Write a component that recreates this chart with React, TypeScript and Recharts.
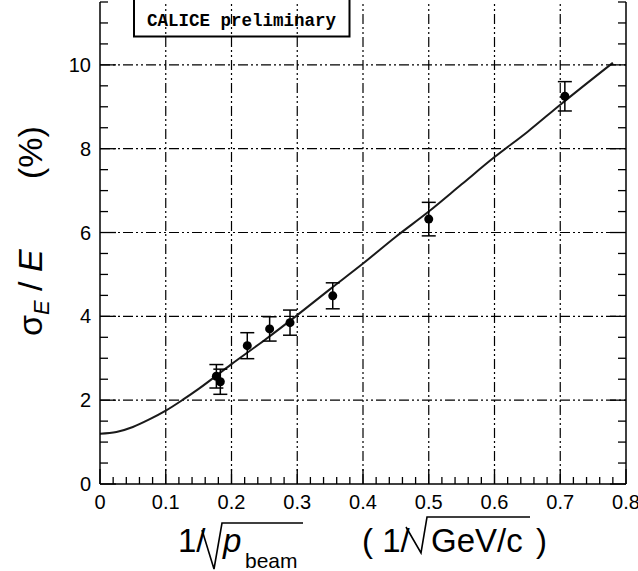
import {
  ComposedChart,
  Line,
  Scatter,
  ErrorBar,
  XAxis,
  YAxis,
  ReferenceLine,
} from "recharts";

// Measured resolution vs 1/sqrt(p) for the beam momenta
const beamX = [0.177, 0.183, 0.224, 0.258, 0.289, 0.354, 0.5, 0.707];
const resolution = [2.57, 2.44, 3.3, 3.7, 3.85, 4.49, 6.32, 9.25];
const resolutionErr = [0.28, 0.3, 0.31, 0.29, 0.3, 0.31, 0.4, 0.35];

// Fit curve, read along its length
const fitX = [0, 0.025, 0.05, 0.075, 0.1, 0.125, 0.15, 0.2, 0.25, 0.3, 0.35, 0.4, 0.45, 0.5, 0.55, 0.6, 0.65, 0.7, 0.78];
const fitY = [1.2, 1.24, 1.36, 1.54, 1.75, 2.0, 2.27, 2.86, 3.43, 4.03, 4.65, 5.26, 5.9, 6.5, 7.15, 7.8, 8.4, 9.05, 10.05];

const xMajor = [0, 0.1, 0.2, 0.3, 0.4, 0.5, 0.6, 0.7, 0.8];
const yMajor = [0, 2, 4, 6, 8, 10];
const xGrid = [0.1, 0.2, 0.3, 0.4, 0.5, 0.6, 0.7];
const yGrid = [2, 4, 6, 8, 10];

const W = 638;
const H = 571;
const M = { top: 2, right: 12, bottom: 0, left: 0 };
const Y_AXIS_W = 100;
const X_AXIS_H = 87;
const PLOT_RIGHT = W - M.right;

// minor ticks every 0.02 in x and 0.5 in y
const xTicks = Array.from({ length: 41 }, (_, i) => Math.round(i * 2) / 100);
const yTicks = Array.from({ length: 24 }, (_, i) => i * 0.5);

const points = beamX.map((x, i) => ({ x, y: resolution[i], err: resolutionErr[i] }));
const fit = fitX.map((x, i) => ({ x, y: fitY[i] }));

const FONT = "'Liberation Sans', Arial, Helvetica, sans-serif";
const isMajor = (v: number, list: number[]) => list.some((m) => Math.abs(m - v) < 1e-6);

const XTick = (props: any) => {
  const { x, y, payload } = props;
  const v = payload.value;
  const major = isMajor(v, xMajor);
  return (
    <g>
      <line x1={x} y1={y} x2={x} y2={y - (major ? 15 : 7)} stroke="#000" strokeWidth={1.3} />
      {major && (
        <text x={x} y={y + 25} textAnchor="middle" fontFamily={FONT} fontSize={20} fill="#000">
          {v === 0 ? "0" : v.toString()}
        </text>
      )}
    </g>
  );
};

const YTick = (props: any) => {
  const { x, y, payload } = props;
  const v = payload.value;
  const major = isMajor(v, yMajor);
  const len = major ? 16 : 8;
  return (
    <g>
      <line x1={x} y1={y} x2={x + len} y2={y} stroke="#000" strokeWidth={1.3} />
      <line x1={PLOT_RIGHT} y1={y} x2={PLOT_RIGHT - len} y2={y} stroke="#000" strokeWidth={1.3} />
      {major && (
        <text x={x - 9} y={y + 7} textAnchor="end" fontFamily={FONT} fontSize={20} fill="#000">
          {v}
        </text>
      )}
    </g>
  );
};

const Dot = (props: any) => <circle cx={props.cx} cy={props.cy} r={4.5} fill="#000" />;

const gridDash = "10 3 2 3 2 3";

export default function App() {
  return (
    <div style={{ position: "absolute", left: 0, top: 0, width: W, height: H, background: "#fff" }}>
      <ComposedChart width={W} height={H} margin={M}>
        <XAxis
          dataKey="x"
          type="number"
          domain={[0, 0.8]}
          ticks={xTicks}
          interval={0}
          height={X_AXIS_H}
          tickSize={0}
          tickMargin={0}
          tickLine={false}
          tick={<XTick />}
          axisLine={{ stroke: "#000", strokeWidth: 1.5 }}
          allowDataOverflow
        />
        <YAxis
          type="number"
          domain={[0, 11.5]}
          ticks={yTicks}
          interval={0}
          width={Y_AXIS_W}
          tickSize={0}
          tickMargin={0}
          tickLine={false}
          tick={<YTick />}
          axisLine={{ stroke: "#000", strokeWidth: 1.5 }}
          allowDataOverflow
        />
        {xGrid.map((v) => (
          <ReferenceLine key={`gx${v}`} x={v} stroke="#000" strokeWidth={1.2} strokeDasharray={gridDash} />
        ))}
        {yGrid.map((v) => (
          <ReferenceLine key={`gy${v}`} y={v} stroke="#000" strokeWidth={1.2} strokeDasharray={gridDash} />
        ))}
        <ReferenceLine x={0.8} stroke="#000" strokeWidth={1.5} />
        <Line
          data={fit}
          dataKey="y"
          type="monotone"
          stroke="#1a1a1a"
          strokeWidth={2}
          dot={false}
          activeDot={false}
          isAnimationActive={false}
        />
        <Scatter data={points} dataKey="y" shape={<Dot />} isAnimationActive={false}>
          <ErrorBar dataKey="err" direction="y" width={7} stroke="#000" strokeWidth={1.5} isAnimationActive={false} />
        </Scatter>
      </ComposedChart>

      <svg
        width={W}
        height={H}
        style={{ position: "absolute", left: 0, top: 0, pointerEvents: "none" }}
      >
        {/* preliminary tag */}
        <path d="M134,0 L134,36.5 L349.5,36.5 L349.5,0" fill="none" stroke="#000" strokeWidth={2} />
        <text x={241.5} y={26} textAnchor="middle" fontFamily="'Liberation Mono', 'DejaVu Sans Mono', monospace" fontWeight="bold" fontSize={17.5} fill="#000">
          CALICE preliminary
        </text>

        {/* y title */}
        <g transform="translate(42,232) rotate(-90)" fontFamily={FONT} fontSize={34} fill="#000">
          <text x={-104} y={0}>
            σ<tspan fontSize={22} fontStyle="italic" dy={7}>E</tspan>
            <tspan dy={-7}> / </tspan>
            <tspan fontStyle="italic">E</tspan>
          </text>
          <text x={53} y={0}>(%)</text>
        </g>

        {/* x title: 1/sqrt(p_beam)   ( 1/sqrt(GeV/c) ) */}
        <g fontFamily={FONT} fill="#000" fontSize={33}>
          <text x={178} y={552}>1/</text>
          <path d="M202,530 L214,569 L222,523 L303,523" fill="none" stroke="#000" strokeWidth={1.6} />
          <text x={223} y={552} fontStyle="italic">p</text>
          <text x={245} y={568} fontSize={21}>beam</text>

          <text x={362} y={552}>( 1/</text>
          <path d="M406,527 L421,553 L427,517 L530,517" fill="none" stroke="#000" strokeWidth={1.6} />
          <text x={431} y={552}>GeV/c</text>
          <text x={536} y={552}>)</text>
        </g>
      </svg>
    </div>
  );
}
